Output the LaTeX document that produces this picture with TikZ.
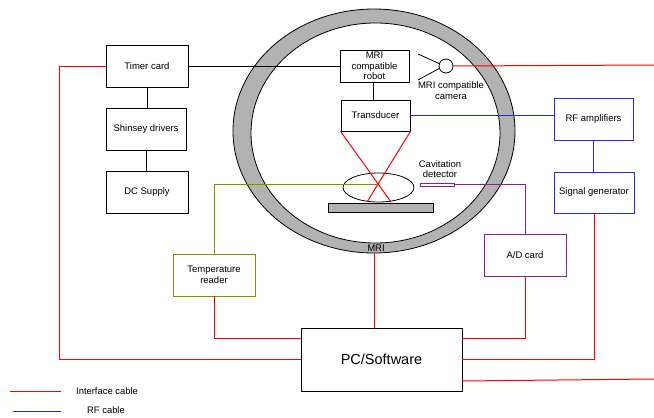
\documentclass[tikz,border=0pt]{standalone}
\usepackage{fontspec}
\setmainfont{Liberation Sans}
\usetikzlibrary{shapes.geometric}

\definecolor{ringgray}{gray}{0.7}
\definecolor{tempolive}{rgb}{0.55,0.55,0}
\definecolor{adpurple}{rgb}{0.58,0.1,0.58}
\definecolor{rfblue}{rgb}{0.15,0.15,1}

\begin{document}
\begin{tikzpicture}[x=1pt,y=-1pt,line width=0.8pt,
  main node/.style={rectangle,draw,inner sep=0pt,align=center,minimum width=82pt,minimum height=42pt,font=\fontsize{9.5}{10.7}\selectfont},
  round node/.style={ellipse,draw,inner sep=0pt},
  interface/.style={draw=red,line width=1pt},
  rf/.style={draw=rfblue,line width=1pt}]

    \useasboundingbox (0, 0) rectangle (654, 418);

    \node[round node, fill=ringgray, minimum width=282pt, minimum height=244pt] (ringouter) at (374, 131) {};
    \node[round node, fill=white, minimum width=249pt, minimum height=220pt] (ringinner) at (375.5, 133) {};
    \node[font=\fontsize{9.5}{10}\selectfont] (mri) at (376, 248) {MRI};

    \node[main node] (timer) at (147, 66) {Timer card};
    \node[main node, minimum width=80pt] (shinsey) at (146, 129) {Shinsey drivers};
    \node[main node] (dcsupply) at (147, 192) {DC Supply};

    \node[main node, minimum width=69pt, minimum height=32pt] (robot) at (374.5, 66) {MRI\\compatible\\robot};
    \node[main node, minimum width=69pt, minimum height=31pt] (transducer) at (375.5, 115.5) {Transducer};

    \node[round node, minimum width=14pt, minimum height=14pt] (camera) at (446, 66) {};
    \node[font=\fontsize{9.5}{10.7}\selectfont, align=center] (cameralabel) at (451, 90.5) {MRI compatible\\camera};
    \coordinate (lensup) at (418, 54);
    \coordinate (lensdown) at (418, 80);
    \coordinate (cameraout) at (654, 65);

    \node[main node, rf, minimum width=79pt] (rfamp) at (593.5, 119) {RF amplifiers};
    \node[main node, rf, minimum width=80pt, minimum height=41pt] (siggen) at (594, 192.5) {Signal generator};

    \node[round node, minimum width=71pt, minimum height=29pt] (target) at (378.5, 187.5) {};
    \node[rectangle, draw, fill=ringgray, inner sep=0pt, minimum width=105pt, minimum height=9pt] (plate) at (380.5, 207.5) {};
    \coordinate (focus) at (378, 184);
    \coordinate (beamleft) at (367, 202);
    \coordinate (beamright) at (391, 202);

    \node[rectangle, draw=adpurple, inner sep=0pt, minimum width=34pt, minimum height=3pt] (detector) at (437, 184.5) {};
    \node[font=\fontsize{9.5}{10}\selectfont, align=center] (detectorlabel) at (440, 169) {Cavitation\\detector};

    \node[main node, draw=tempolive] (tempreader) at (214, 275) {Temperature\\reader};
    \node[main node, draw=adpurple] (adcard) at (525, 255) {A/D card};
    \node[main node, minimum width=161pt, minimum height=63pt, font=\fontsize{14.5}{16}\selectfont] (pc) at (381.5, 359.5) {PC/Software};

    \coordinate (pcleft) at (301, 338);
    \coordinate (pcright) at (462, 338);
    \coordinate (pclow) at (462, 381);
    \coordinate (pcout) at (654, 379);

    \draw (timer.east) -- (robot.west);
    \draw (timer.south) -- (timer.south |- shinsey.north);
    \draw (shinsey.south) -- (shinsey.south |- dcsupply.north);
    \draw ([xshift=-1.5pt]robot.south) -- ([xshift=-2.5pt]transducer.north);
    \draw (lensup) -- (camera.160);
    \draw (lensdown) -- (camera.200);

    \draw[interface] (transducer.south west) -- (beamright);
    \draw[interface] (transducer.south east) -- (beamleft);
    \draw[interface] (camera.east) -- (cameraout);
    \draw[interface] (timer.west) -- ++(-46, 0) |- (pc.west);
    \draw[interface] (ringouter.south) -- (ringouter.south |- pc.north);
    \draw[interface] (tempreader.south) |- (pcleft);
    \draw[interface] (adcard.south) |- (pcright);
    \draw[interface] (siggen.south) |- (pc.east);
    \draw[interface] (pclow) -- (pcout);

    \draw[rf] (transducer.east) -- (rfamp.west |- transducer.east);
    \draw[rf] (rfamp.south) -- (rfamp.south |- siggen.north);

    \draw[draw=tempolive] (tempreader.north) |- (focus);
    \draw[draw=adpurple] (detector.east) -| (adcard.north);

    \coordinate (legendredstart) at (10, 391);
    \coordinate (legendblue) at (12.5, 411);
    \node[font=\fontsize{9.4}{10}\selectfont] (legendred) at (107, 391) {Interface cable};
    \node[font=\fontsize{9.4}{10}\selectfont] (legendrf) at (106, 410) {RF cable};
    \draw[interface] (legendredstart) -- (61, 391);
    \draw[rf] (legendblue) -- (61, 411);
\end{tikzpicture}
\end{document}
